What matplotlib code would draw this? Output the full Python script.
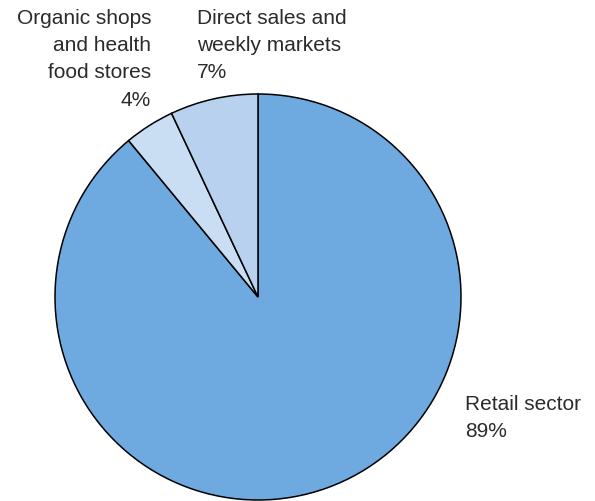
import matplotlib

matplotlib.use("Agg")
import matplotlib.pyplot as plt

plt.rcParams["font.family"] = ["Liberation Sans", "DejaVu Sans"]

segments = ["Retail sector", "Organic shops\nand health\nfood stores", "Direct sales and\nweekly markets"]
shares = [89, 4, 7]
colors = ["#6eaadf", "#c9ddf3", "#b7d1ee"]

W, H = 595, 502
fig = plt.figure(figsize=(W / 100, H / 100), dpi=100)
ax = fig.add_axes([0, 0, 1, 1])

cx, cy, r = 258, H - 298, 203
ax.pie(
    shares,
    colors=colors,
    startangle=90,
    counterclock=False,
    center=(cx, cy),
    radius=r,
    frame=True,
    wedgeprops={"edgecolor": "black", "linewidth": 1.1},
)
ax.set_xlim(0, W)
ax.set_ylim(0, H)
ax.axis("off")

txt = dict(fontsize=15, color="#2b2b2b", linespacing=1.55, va="top")
ax.text(151, H - 9, f"{segments[1]}\n{shares[1]}%", ha="right", multialignment="right", **txt)
ax.text(197, H - 9, f"{segments[2]}\n{shares[2]}%", ha="left", **txt)
ax.text(465, H - 395, f"{segments[0]}\n{shares[0]}%", ha="left", **txt)

fig.savefig("out.png", dpi=100)
